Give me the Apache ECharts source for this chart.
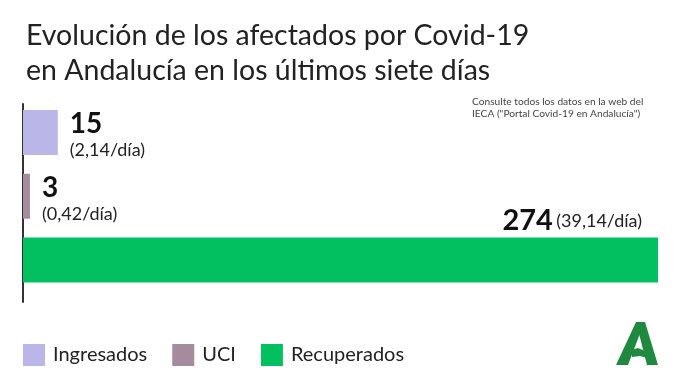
<!DOCTYPE html>
<html><head><meta charset="utf-8">
<script src="https://cdn.jsdelivr.net/npm/echarts@6/dist/echarts.min.js"></script>
<style>html,body{margin:0;padding:0;background:#fff}#c{width:680px;height:382px}</style>
</head><body><div id="c"></div>
<script>
const categories = ['Ingresados', 'UCI', 'Recuperados'];
const totals = [15, 3, 274];
const perDay = ['2,14', '0,42', '39,14'];
const colors = ['#bab6e8', '#a48c9e', '#02c05f'];
const titleText = 'Evolución de los afectados por Covid-19\nen Andalucía en los últimos siete días';
const noteText = 'Consulte todos los datos en la web del\nIECA ("Portal Covid-19 en Andalucía")';

const FONT = 'Lato, "Noto Sans", sans-serif';
const chart = echarts.init(document.getElementById('c'), null, {renderer: 'canvas'});

const series = categories.map((name, i) => {
  const data = categories.map((c, j) => j === i ? totals[i] : '-');
  const isLast = i === categories.length - 1;
  const label = isLast ? {
    show: true,
    position: ['100%', 0],
    align: 'right',
    verticalAlign: 'bottom',
    offset: [-16, -2],
    formatter: () => '{a|' + totals[i] + '} {b|(' + perDay[i] + '/día)}',
    rich: {
      a: {fontSize: 29, fontWeight: 'bold', color: '#111', fontFamily: FONT},
      b: {fontSize: 18, color: '#222', fontFamily: FONT}
    }
  } : {
    show: true,
    position: 'right',
    distance: 12,
    offset: [0, 4],
    formatter: () => '{a|' + totals[i] + '}\n{b|(' + perDay[i] + '/día)}',
    rich: {
      a: {fontSize: 28, fontWeight: 'bold', color: '#111', lineHeight: 27, fontFamily: FONT},
      b: {fontSize: 18, color: '#222', lineHeight: 24, fontFamily: FONT}
    }
  };
  return {
    name, type: 'bar', stack: 'all', data, barWidth: 45,
    itemStyle: {color: colors[i]},
    label,
    silent: true
  };
});

chart.setOption({
  animation: false,
  title: [
    {text: titleText, left: 21, top: 13,
     textStyle: {fontSize: 28.5, fontWeight: 'normal', color: '#222', lineHeight: 35, fontFamily: FONT}},
    {text: noteText, left: 467, top: 90,
     textStyle: {fontSize: 10.2, fontWeight: 'normal', color: '#444', lineHeight: 12.5, fontFamily: FONT}}
  ],
  legend: {
    data: categories, left: 23, top: 344, padding: 0, icon: 'rect', itemWidth: 22, itemHeight: 22, itemGap: 25,
    textStyle: {fontSize: 20, color: '#222', fontFamily: FONT, padding: [0, 0, 0, 3]},
    selectedMode: false
  },
  grid: [
    {left: 23, right: 22, top: 100.5, height: 191.5},
    {left: 23, width: 10, top: 104, height: 198}
  ],
  xAxis: [
    {type: 'value', gridIndex: 0, min: 0, max: Math.max(...totals), show: false},
    {type: 'value', gridIndex: 1, min: 0, max: 1, show: false}
  ],
  yAxis: [
    {type: 'category', gridIndex: 0, data: categories, inverse: true, show: false},
    {type: 'category', gridIndex: 1, data: [''], axisLine: {show: true, lineStyle: {color: '#333', width: 2}},
     axisTick: {show: false}, axisLabel: {show: false}, splitLine: {show: false}}
  ],
  series,
  graphic: [
    {type: 'polygon', shape: {points: [[616,365],[628,365],[641,331],[645,322],[636,322]]}, style: {fill: '#1f8a3f'}},
    {type: 'polygon', shape: {points: [[636,322],[645,322],[658,365],[647,365]]}, style: {fill: '#1f8a3f'}},
    {type: 'polygon', shape: {points: [[631,350],[638,348],[645,351],[647,358],[640,356],[632,357]]}, style: {fill: '#1f8a3f'}}
  ]
});
</script></body></html>
